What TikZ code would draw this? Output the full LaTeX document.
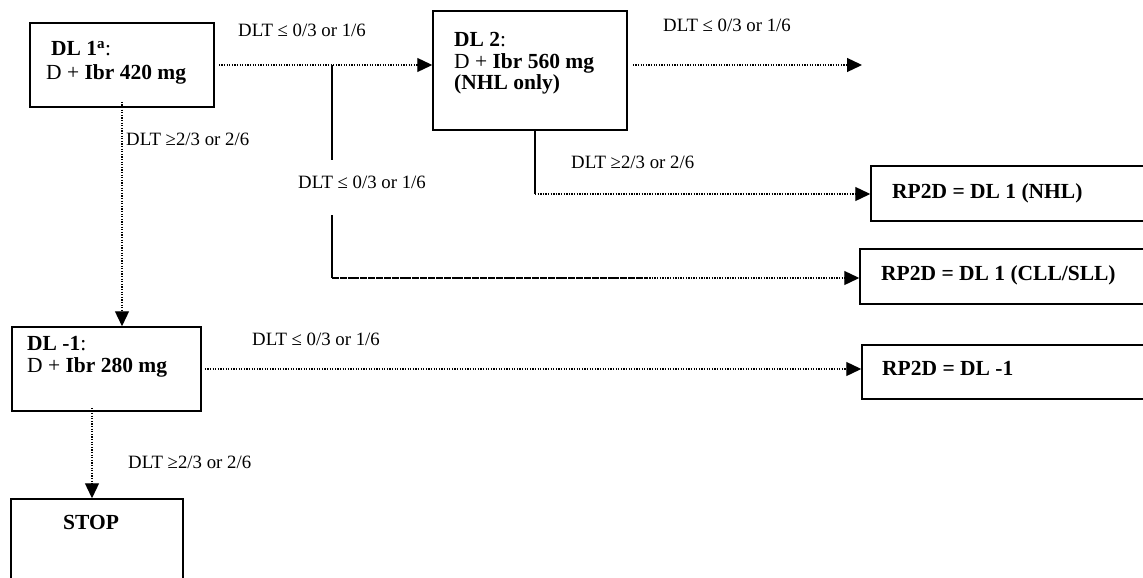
\documentclass[tikz,border=0pt]{standalone}
\usepackage{fontspec}
\setmainfont{Liberation Serif}
\usetikzlibrary{arrows.meta}
\begin{document}
\begin{tikzpicture}[x=1pt,y=-1pt,
  box/.style={draw,line width=1.5pt,rectangle,inner sep=0pt},
  lbl/.style={anchor=base west,inner sep=0pt,font=\fontsize{18.8}{21}\selectfont},
  btxt/.style={anchor=base west,inner sep=0pt,font=\fontsize{21.5}{23}\selectfont},
  dotline/.style={line width=1.3pt,dash pattern=on 1.3pt off 1.3pt},
  solidline/.style={line width=2pt},
  tip/.style={-{Triangle[length=15pt,width=14pt]}}
]
\useasboundingbox (0,0) rectangle (1143,578);
\fill[white] (0,0) rectangle (1143,578);

% boxes
\node[box,minimum width=184pt,minimum height=84pt] (dl1) at (122,65) {};
\node[box,minimum width=194pt,minimum height=119pt] (dl2) at (530,70.5) {};
\node[box,minimum width=290pt,minimum height=55pt] (nhl) at (1016,193.5) {};
\node[box,minimum width=300pt,minimum height=55pt] (cll) at (1010,276.5) {};
\node[box,minimum width=300pt,minimum height=54pt] (rpm) at (1012,372) {};
\node[box,minimum width=189pt,minimum height=84pt] (dlm) at (106.5,369) {};
\node[box,minimum width=172pt,minimum height=100pt] (stop) at (97,549) {};

% box texts
\node[btxt] (t1a) at (51,56) {\textbf{DL 1\textsuperscript{a}}:};
\node[btxt] (t1b) at (46,80) {D + \textbf{Ibr 420 mg}};
\node[btxt] (t2a) at (454,47) {\textbf{DL 2}:};
\node[btxt] (t2b) at (454,68) {D + \textbf{Ibr 560 mg}};
\node[btxt] (t2c) at (454,89) {\textbf{(NHL only)}};
\node[btxt] (tn) at (892,198) {\textbf{RP2D = DL 1 (NHL)}};
\node[btxt] (tc) at (881,280) {\textbf{RP2D = DL 1 (CLL/SLL)}};
\node[btxt] (tr) at (882,375) {\textbf{RP2D = DL  -1}};
\node[btxt] (tma) at (27,350) {\textbf{DL -1}:};
\node[btxt] (tmb) at (27,372) {D + \textbf{Ibr 280 mg}};
\node[btxt] (ts) at (63,529) {\textbf{STOP}};

% labels
\node[lbl] (l1) at (238,37) {DLT ≤ 0/3 or 1/6};
\node[lbl] (l2) at (298,188) {DLT ≤ 0/3 or 1/6};
\node[lbl] (l3) at (663,32) {DLT ≤ 0/3 or 1/6};
\node[lbl] (l4) at (571,168) {DLT ≥2/3 or 2/6};
\node[lbl] (l5) at (126,145) {DLT ≥2/3 or 2/6};
\node[lbl] (l6) at (252,345) {DLT ≤ 0/3 or 1/6};
\node[lbl] (l7) at (128,468) {DLT ≥2/3 or 2/6};

% junctions
\coordinate (j1) at (332,65);
\coordinate (j1b) at (332,160);
\coordinate (j2) at (332,215);
\coordinate (j3) at (332,278);
\coordinate (j4) at (648,278);
\coordinate (d2) at (535,194);
\coordinate (e1) at (862,65);

% connectors
\draw[dotline,tip] ([xshift=4pt]dl1.east) -- (dl2.west |- dl1.east);
\draw[solidline] (j1) -- (j1b);
\draw[solidline] (j2) -- (j3);
\draw[dotline,tip] (j3) -- (cll.west |- j3);
\draw[line width=1.5pt,dash pattern=on 3pt off 1pt] (j3) -- (j4);
\draw[dotline,tip] ([xshift=5pt]dl2.east |- dl1.east) -- (e1);
\draw[solidline] (dl2.south -| d2) -- (d2);
\draw[dotline,tip] (d2) -- (nhl.west |- d2);
\draw[dotline,tip] ([yshift=6pt]dl1.south) -- (dl1.south |- dlm.north);
\draw[dotline,tip] ([xshift=3pt]dlm.east) -- (rpm.west |- dlm.east);
\draw[dotline,tip] ([xshift=-14.5pt,yshift=4pt]dlm.south) -- ([xshift=-5pt]stop.north);
\end{tikzpicture}
\end{document}
